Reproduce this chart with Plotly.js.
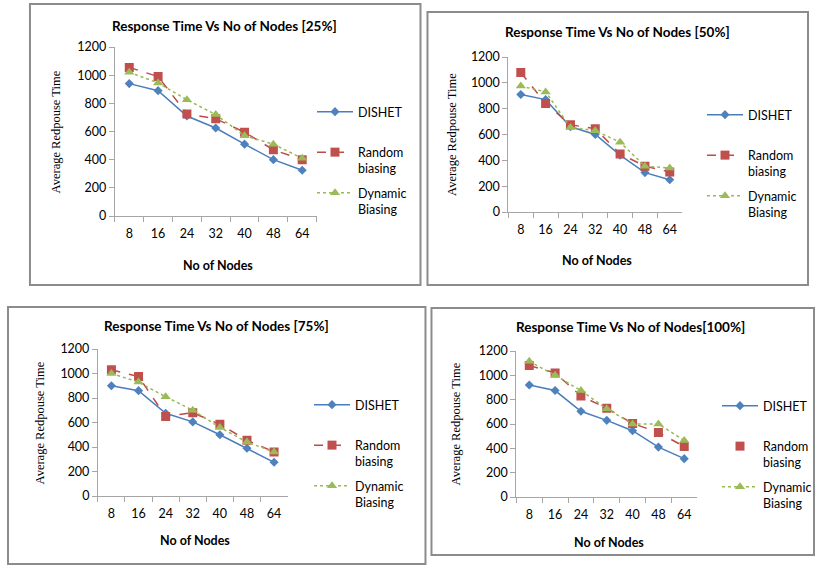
<!DOCTYPE html>
<html>
<head>
<meta charset="utf-8">
<script src="https://cdn.plot.ly/plotly-3.0.1.min.js"></script>
<style>html,body{margin:0;padding:0;background:#fff;}#chart{width:817px;height:565px;}</style>
</head>
<body>
<div id="chart"></div>
<script>
const nodes = ['8', '16', '24', '32', '40', '48', '64'];
const seriesNames = ['DISHET<br>&nbsp;', 'Random<br>biasing', 'Dynamic<br>Biasing'];
const panelTitles = ['Response Time Vs No of Nodes [25%]', 'Response Time Vs No of Nodes [50%]',
                     'Response Time Vs No of Nodes [75%]', 'Response Time Vs No of Nodes[100%]'];
const yTickVals = [0, 200, 400, 600, 800, 1000, 1200];

const dishet25  = [940, 890, 710, 625, 510, 400, 325];
const random25  = [1055, 990, 725, 690, 595, 470, 400];
const dynamic25 = [1020, 945, 825, 720, 570, 510, 410];

const dishet50  = [910, 870, 660, 600, 440, 305, 250];
const random50  = [1080, 840, 675, 645, 450, 355, 310];
const dynamic50 = [975, 930, 655, 630, 540, 355, 340];

const dishet75  = [900, 860, 675, 605, 500, 390, 275];
const random75  = [1030, 975, 650, 680, 585, 455, 360];
const dynamic75 = [1000, 930, 810, 700, 560, 440, 360];

const dishet100  = [920, 875, 705, 630, 545, 410, 315];
const random100  = [1080, 1020, 830, 730, 605, 530, 415];
const dynamic100 = [1115, 1000, 875, 725, 600, 600, 465];

const panels = [
  {d: dishet25,  r: random25,  g: dynamic25},
  {d: dishet50,  r: random50,  g: dynamic50},
  {d: dishet75,  r: random75,  g: dynamic75},
  {d: dishet100, r: random100, g: dynamic100}
];

const W = 817, H = 565;
const px = v => v / W;
const py = v => 1 - v / H;

// plot area geometry in pixels: [xLeft, xRight, yBottom(0), yTop(1200)]
const geo = [
  [115, 317, 216, 47],
  [509, 683, 212, 57],
  [98, 288, 496, 349],
  [517, 698, 497, 351]
];
// panel frames [x0, y0, x1, y1]
const frames = [
  [30, 4, 421, 285],
  [428, 12, 809, 285],
  [8, 307, 426, 564],
  [432, 308, 815, 555]
];
// legend anchor (left x, top y) in px
const legPos = [[312, 97], [702, 100], [309, 390], [718, 391]];
const titleY = [26, 32, 326, 327];
const titleX = [225, 618, 217, 631];
const xTitleY = [265, 260, 540, 542];
const yTitleX = [57, 453, 40, 457];

const BLUE = '#4A7EBB', RED = '#BE4B48', GREEN = '#98B954';
const FONT = 'Lato, "Liberation Sans", sans-serif';

const data = [];
const layout = {
  width: W, height: H,
  margin: {l: 0, r: 0, t: 0, b: 0},
  paper_bgcolor: '#fff', plot_bgcolor: '#fff',
  font: {family: FONT, size: 12, color: '#000'},
  shapes: [], annotations: [],
  showlegend: true
};

panels.forEach((p, i) => {
  const n = i + 1;
  const xa = n === 1 ? 'x' : 'x' + n;
  const ya = n === 1 ? 'y' : 'y' + n;
  const lg = n === 1 ? 'legend' : 'legend' + n;
  const g = geo[i];

  data.push({
    x: nodes, y: p.d, xaxis: xa, yaxis: ya, legend: lg, name: seriesNames[0],
    type: 'scatter', mode: 'lines+markers', legendgroup: 'd' + n,
    line: {color: BLUE, width: 1.5},
    marker: {symbol: 'diamond', size: 7, color: '#4F81BD'}
  });
  if (n === 4) {
    data.push({
      x: nodes, y: p.r, xaxis: xa, yaxis: ya, legend: lg, showlegend: false,
      type: 'scatter', mode: 'lines', legendgroup: 'r' + n,
      line: {color: RED, width: 1.5, dash: 'dash'}, hoverinfo: 'skip'
    });
    data.push({
      x: nodes, y: p.r, xaxis: xa, yaxis: ya, legend: lg, name: seriesNames[1],
      type: 'scatter', mode: 'markers', legendgroup: 'r' + n,
      marker: {symbol: 'square', size: 9, color: '#C0504D'}
    });
  } else {
    data.push({
      x: nodes, y: p.r, xaxis: xa, yaxis: ya, legend: lg, name: seriesNames[1],
      type: 'scatter', mode: 'lines+markers', legendgroup: 'r' + n,
      line: {color: RED, width: 1.5, dash: 'dash'},
      marker: {symbol: 'square', size: 9, color: '#C0504D'}
    });
  }
  data.push({
    x: nodes, y: p.g, xaxis: xa, yaxis: ya, legend: lg, name: seriesNames[2],
    type: 'scatter', mode: 'lines+markers', legendgroup: 'g' + n,
    line: {color: GREEN, width: 1.5, dash: 'dot'},
    marker: {symbol: 'triangle-up', size: 9, color: '#9BBB59'}
  });

  layout['xaxis' + (n === 1 ? '' : n)] = {
    domain: [px(g[0]), px(g[1])], anchor: ya,
    type: 'category', range: [-0.5, 6.5], tickson: 'boundaries',
    ticks: 'outside', ticklen: 5, tickcolor: '#A6A6A6',
    showline: true, linecolor: '#A6A6A6', linewidth: 1,
    showgrid: false, zeroline: false, fixedrange: true,
    tickfont: {family: FONT, size: 12.5, color: '#000'}, ticklabelstandoff: 6
  };
  layout['yaxis' + (n === 1 ? '' : n)] = {
    domain: [py(g[2]), py(g[3])], anchor: xa,
    range: [0, 1200], tickvals: yTickVals,
    ticks: 'outside', ticklen: 5, tickcolor: '#A6A6A6',
    showline: true, linecolor: '#A6A6A6', linewidth: 1,
    showgrid: false, zeroline: false, fixedrange: true,
    tickfont: {family: FONT, size: 12.5, color: '#000'}
  };
  layout[lg] = {
    x: px(legPos[i][0]), y: py(legPos[i][1]), xanchor: 'left', yanchor: 'top',
    bgcolor: 'rgba(0,0,0,0)', borderwidth: 0,
    font: {family: FONT, size: 12.5, color: '#000'},
    traceorder: 'grouped', tracegroupgap: 5, valign: 'top', itemwidth: 36
  };

  const f = frames[i];
  layout.shapes.push({type: 'rect', xref: 'paper', yref: 'paper',
    x0: px(f[0]), x1: px(f[2]), y0: py(f[3]), y1: py(f[1]),
    line: {color: '#8C8C8C', width: 2}});

  layout.annotations.push({
    xref: 'paper', yref: 'paper', x: px(titleX[i]), y: py(titleY[i]),
    text: '<b>' + panelTitles[i] + '</b>', showarrow: false,
    xanchor: 'center', yanchor: 'middle', font: {family: FONT, size: 13.5, color: '#000'}
  });
  layout.annotations.push({
    xref: 'paper', yref: 'paper', x: px((g[0] + g[1]) / 2 + 2), y: py(xTitleY[i]),
    text: '<b>No of Nodes</b>', showarrow: false,
    xanchor: 'center', yanchor: 'middle', font: {family: FONT, size: 12.5, color: '#000'}
  });
  layout.annotations.push({
    xref: 'paper', yref: 'paper', x: px(yTitleX[i]), y: py((g[2] + g[3]) / 2),
    text: 'Average Redpouse Time', showarrow: false, textangle: -90,
    xanchor: 'center', yanchor: 'middle',
    font: {family: '"Liberation Serif", "DejaVu Serif", serif', size: 12.5, color: '#000'}
  });
});

Plotly.newPlot('chart', data, layout, {displayModeBar: false, staticPlot: true});
</script>
</body>
</html>
